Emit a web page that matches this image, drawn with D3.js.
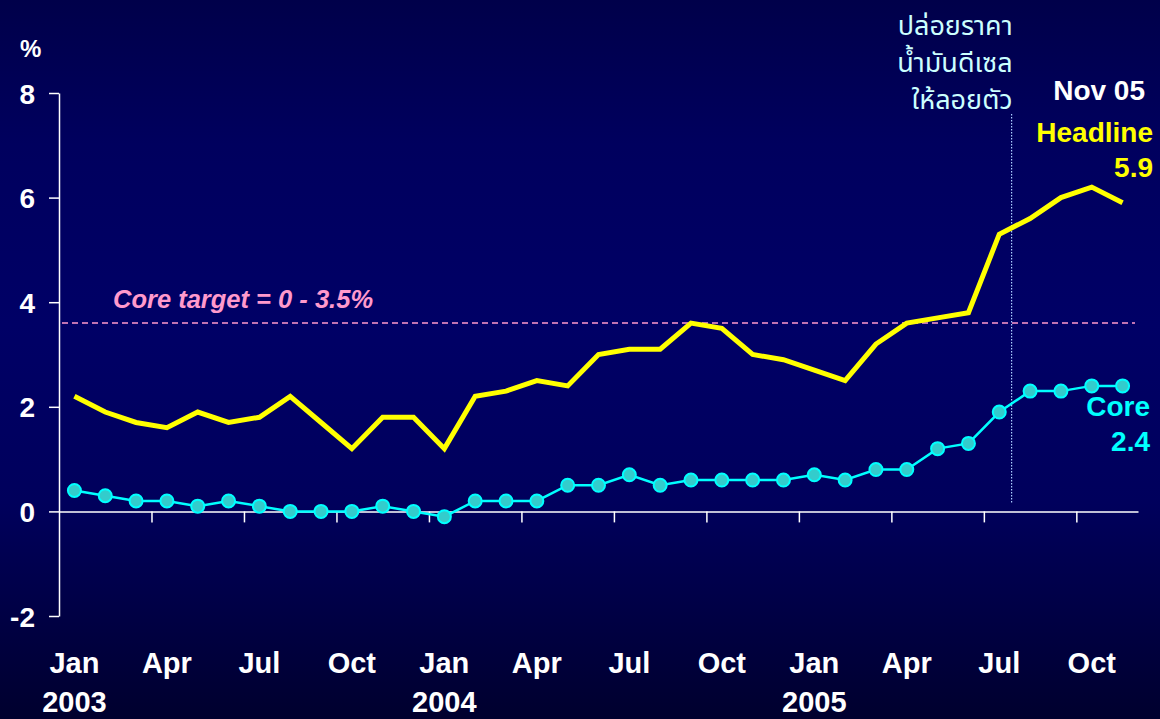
<!DOCTYPE html>
<html>
<head>
<meta charset="utf-8">
<script src="https://cdn.jsdelivr.net/npm/d3@7"></script>
<style>
  html, body { margin: 0; padding: 0; background: #000040; }
  svg { display: block; }
  .axis path, .axis line { stroke: #fff; stroke-width: 1.5; }
  .axis text { fill: #fff; font: bold 28px "Liberation Sans", Arial, sans-serif; }
</style>
</head>
<body>
<svg class="chart"></svg>
<script>
// months shown on the chart, Jan 2003 .. Nov 2005
let months = [
  'Jan 2003', 'Feb 2003', 'Mar 2003', 'Apr 2003', 'May 2003', 'Jun 2003',
  'Jul 2003', 'Aug 2003', 'Sep 2003', 'Oct 2003', 'Nov 2003', 'Dec 2003',
  'Jan 2004', 'Feb 2004', 'Mar 2004', 'Apr 2004', 'May 2004', 'Jun 2004',
  'Jul 2004', 'Aug 2004', 'Sep 2004', 'Oct 2004', 'Nov 2004', 'Dec 2004',
  'Jan 2005', 'Feb 2005', 'Mar 2005', 'Apr 2005', 'May 2005', 'Jun 2005',
  'Jul 2005', 'Aug 2005', 'Sep 2005', 'Oct 2005', 'Nov 2005'
];

let headline = [
  2.2, 1.9, 1.7, 1.6, 1.9, 1.7, 1.8, 2.2, 1.7, 1.2, 1.8, 1.8,
  1.2, 2.2, 2.3, 2.5, 2.4, 3.0, 3.1, 3.1, 3.6, 3.5, 3.0, 2.9,
  2.7, 2.5, 3.2, 3.6, 3.7, 3.8, 5.3, 5.6, 6.0, 6.2, 5.9
];

let core = [
  0.4, 0.3, 0.2, 0.2, 0.1, 0.2, 0.1, 0.0, 0.0, 0.0, 0.1, 0.0,
  -0.1, 0.2, 0.2, 0.2, 0.5, 0.5, 0.7, 0.5, 0.6, 0.6, 0.6, 0.6,
  0.7, 0.6, 0.8, 0.8, 1.2, 1.3, 1.9, 2.3, 2.3, 2.4, 2.4
];

let yTicks = [-2, 0, 2, 4, 6, 8];
let coreTarget = 3.6;            // dashed line level
let targetLabel = 'Core target = 0 - 3.5%';
let eventMonth = 30.9;           // diesel price float, late Jul 2005 (in months from Jan 2003)
let eventLabel = ['ปล่อยราคา', 'น้ำมันดีเซล', 'ให้ลอยตัว'];
let lastLabel = 'Nov 05';

let width = 1160, height = 719;

let svg = d3.select('.chart')
  .attr('width', width)
  .attr('height', height);

// background gradient
let grad = svg.append('defs')
  .append('linearGradient')
  .attr('id', 'bg')
  .attr('x1', 0).attr('y1', 0).attr('x2', 0).attr('y2', 1);
[[0, '#00004a'], [0.2, '#00005e'], [0.45, '#000066'], [0.7, '#00005c'], [1, '#00002e']]
  .forEach((s) => grad.append('stop').attr('offset', s[0]).attr('stop-color', s[1]));

svg.append('rect')
  .attr('width', width)
  .attr('height', height)
  .attr('fill', 'url(#bg)');

let xScale = d3.scaleLinear()
  .domain([0, months.length])
  .range([59, 1138]);

let yScale = d3.scaleLinear()
  .domain([-2, 8])
  .range([616, 93]);

let xMid = (i) => xScale(i + 0.5);

// y axis
let yAxis = svg.append('g')
  .attr('class', 'axis')
  .attr('transform', 'translate(' + xScale(0) + ',0)')
  .call(d3.axisLeft(yScale)
    .tickValues(yTicks)
    .tickSize(10)
    .tickSizeOuter(0)
    .tickPadding(14)
    .tickFormat((d) => String(d)));
yAxis.selectAll('text').attr('dy', '0.36em');

svg.append('text')
  .attr('x', 20)
  .attr('y', 57)
  .attr('fill', '#fff')
  .style('font', 'bold 24px "Liberation Sans", Arial, sans-serif')
  .text('%');

// x axis at 0, ticks every quarter
let xAxis = svg.append('g')
  .attr('class', 'axis')
  .attr('transform', 'translate(0,' + yScale(0) + ')')
  .call(d3.axisBottom(xScale)
    .tickValues(d3.range(3, months.length, 3))
    .tickSize(11)
    .tickSizeOuter(0)
    .tickFormat(''));

// month / year labels
let labelFont = 'bold 29px "Liberation Sans", Arial, sans-serif';
svg.append('g')
  .selectAll('text')
  .data(months.filter((m, i) => i % 3 === 0))
  .enter()
  .append('text')
  .attr('x', (d) => xMid(months.indexOf(d)))
  .attr('y', 673)
  .attr('text-anchor', 'middle')
  .attr('fill', '#fff')
  .style('font', labelFont)
  .text((d) => d.split(' ')[0]);

svg.append('g')
  .selectAll('text')
  .data(months.filter((m) => m.startsWith('Jan')))
  .enter()
  .append('text')
  .attr('x', (d) => xMid(months.indexOf(d)))
  .attr('y', 712)
  .attr('text-anchor', 'middle')
  .attr('fill', '#fff')
  .style('font', labelFont)
  .text((d) => d.split(' ')[1]);

// core target line
svg.append('line')
  .attr('x1', xScale(0) + 3)
  .attr('x2', xScale(months.length) - 3)
  .attr('y1', yScale(coreTarget))
  .attr('y2', yScale(coreTarget))
  .attr('stroke', '#ff99cc')
  .attr('stroke-width', 1.5)
  .attr('stroke-dasharray', '6,4');

svg.append('text')
  .attr('x', 113)
  .attr('y', 308)
  .attr('fill', '#ff99cc')
  .style('font', 'italic bold 25.5px "Liberation Sans", Arial, sans-serif')
  .text(targetLabel);

// event marker
svg.append('line')
  .attr('x1', xScale(eventMonth))
  .attr('x2', xScale(eventMonth))
  .attr('y1', 114)
  .attr('y2', yScale(0.17))
  .attr('stroke', '#aaccff')
  .attr('stroke-width', 1.2)
  .attr('stroke-dasharray', '1.5,1.5');

svg.append('g')
  .selectAll('text')
  .data(eventLabel)
  .enter()
  .append('text')
  .attr('x', xScale(eventMonth) + 1)
  .attr('y', (d, i) => 35 + i * 37)
  .attr('text-anchor', 'end')
  .attr('fill', '#ccffff')
  .style('font', '27px "Noto Sans Thai", "Noto Sans", "DejaVu Sans", sans-serif')
  .text((d) => d);

// d3's line generator
let line = d3.line()
  .x((d, i) => xMid(i))
  .y((d) => yScale(d));

svg.append('path')
  .attr('d', line(headline))
  .attr('fill', 'none')
  .attr('stroke', '#ffff00')
  .attr('stroke-width', 5)
  .attr('stroke-linejoin', 'miter');

svg.append('path')
  .attr('d', line(core))
  .attr('fill', 'none')
  .attr('stroke', '#00ffff')
  .attr('stroke-width', 2.5);

svg.append('g')
  .selectAll('circle')
  .data(core)
  .enter()
  .append('circle')
  .attr('cx', (d, i) => xMid(i))
  .attr('cy', (d) => yScale(d))
  .attr('r', 6.5)
  .attr('fill', '#33cccc')
  .attr('stroke', '#00ffff')
  .attr('stroke-width', 2);

// end labels
let endFont = 'bold 28px "Liberation Sans", Arial, sans-serif';
svg.append('text')
  .attr('x', 1145).attr('y', 100)
  .attr('text-anchor', 'end')
  .attr('fill', '#fff')
  .style('font', endFont)
  .text(lastLabel);

[['Headline', headline, '#ffff00', 142, 177], ['Core', core, '#00ffff', 416, 451]]
  .forEach((s) => {
    svg.append('text')
      .attr('x', s[0] === 'Core' ? 1150 : 1153).attr('y', s[3])
      .attr('text-anchor', 'end')
      .attr('fill', s[2])
      .style('font', endFont)
      .text(s[0]);
    svg.append('text')
      .attr('x', s[0] === 'Core' ? 1150 : 1153).attr('y', s[4])
      .attr('text-anchor', 'end')
      .attr('fill', s[2])
      .style('font', endFont)
      .text(d3.format('.1f')(s[1][s[1].length - 1]));
  });
</script>
</body>
</html>
